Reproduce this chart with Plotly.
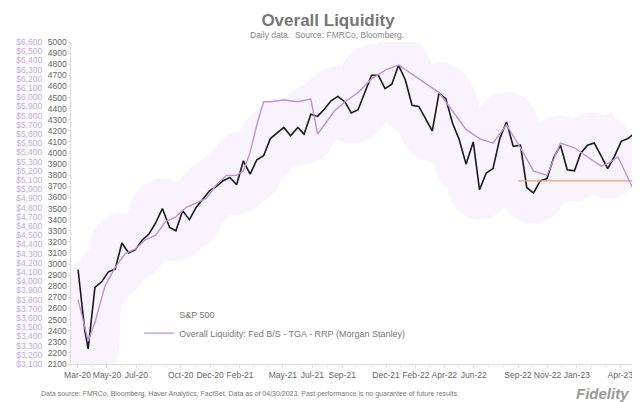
import plotly.graph_objects as go

spx_dates = ["2020-03-02","2020-03-16","2020-03-23","2020-04-06","2020-04-20","2020-05-04","2020-05-18","2020-06-01",
    "2020-06-15","2020-06-29","2020-07-13","2020-07-27","2020-08-10","2020-08-24","2020-09-08","2020-09-21",
    "2020-10-05","2020-10-19","2020-11-02","2020-11-16","2020-11-30","2020-12-14","2020-12-28",
    "2021-01-11","2021-01-25","2021-02-08","2021-02-22","2021-03-08","2021-03-22","2021-04-05","2021-04-19",
    "2021-05-03","2021-05-17","2021-06-01","2021-06-14","2021-06-28","2021-07-12","2021-07-26","2021-08-09",
    "2021-08-23","2021-09-07","2021-09-20","2021-10-04","2021-10-18","2021-11-01","2021-11-15","2021-11-29",
    "2021-12-13","2021-12-27","2022-01-10","2022-01-24","2022-02-07","2022-02-22","2022-03-07","2022-03-21",
    "2022-04-04","2022-04-18","2022-05-02","2022-05-16","2022-05-31","2022-06-13","2022-06-27","2022-07-11",
    "2022-07-25","2022-08-08","2022-08-22","2022-09-06","2022-09-19","2022-10-03","2022-10-17","2022-10-31",
    "2022-11-14","2022-11-28","2022-12-12","2022-12-27","2023-01-09","2023-01-23","2023-02-06","2023-02-21",
    "2023-03-06","2023-03-20","2023-04-03","2023-04-17","2023-04-28"]
spx = [2950,2400,2237,2790,2840,2930,2955,3190,3100,3130,3215,3270,3370,3500,3330,3300,
    3480,3400,3510,3580,3660,3700,3750,3780,3715,3930,3810,3940,3975,4130,4180,
    4230,4155,4230,4170,4350,4330,4395,4470,4510,4460,4360,4390,4540,4700,4700,4580,
    4620,4790,4660,4430,4420,4300,4200,4540,4490,4270,4120,3900,4100,3670,3820,3860,
    4130,4280,4060,4070,3690,3640,3750,3770,3960,4070,3850,3840,3999,4070,4090,3970,
    3860,3970,4105,4130,4170]

liq_dates = ["2020-03-02","2020-03-23","2020-04-06","2020-04-27","2020-05-18","2020-06-08","2020-06-29","2020-07-20",
    "2020-08-10","2020-08-31","2020-09-21","2020-10-12","2020-11-02","2020-11-23","2020-12-14","2021-01-04",
    "2021-01-25","2021-02-08","2021-02-22","2021-03-08","2021-03-22","2021-04-05","2021-05-03","2021-06-01",
    "2021-06-28","2021-07-12","2021-07-26","2021-08-16","2021-09-07","2021-10-04","2021-11-01","2021-12-01",
    "2021-12-27","2022-01-24","2022-02-22","2022-03-21","2022-04-18","2022-05-16","2022-06-13","2022-07-11",
    "2022-08-08","2022-09-06","2022-10-03","2022-10-31","2022-11-28","2022-12-27","2023-01-23","2023-02-21",
    "2023-03-13","2023-03-27","2023-04-10","2023-04-28"]
liq = [3800,3350,3550,3950,4150,4300,4350,4450,4500,4650,4700,4800,4850,4900,5050,5150,
    5150,5200,5400,5700,5950,5950,5970,5950,5980,5600,5700,5850,5950,6050,6200,6300,
    6350,6250,6150,6050,5850,5650,5550,5500,5700,5450,5200,5150,5500,5450,5350,5250,
    5300,5350,5200,5000]

tick_dates = ["2020-03-01","2020-05-01","2020-07-01","2020-10-01","2020-12-01","2021-02-01","2021-05-01","2021-07-01",
    "2021-09-01","2021-12-01","2022-02-01","2022-04-01","2022-06-01","2022-09-01","2022-11-01","2023-01-01","2023-04-01"]
tick_text = ["Mar-20","May-20","Jul-20","Oct-20","Dec-20","Feb-21","May-21","Jul-21","Sep-21","Dec-21",
    "Feb-22","Apr-22","Jun-22","Sep-22","Nov-22","Jan-23","Apr-23"]

ref_level = 3750
ref_dates = ["2022-09-01", "2023-05-12"]

fig = go.Figure()
# soft purple glow behind the lines
fig.add_trace(go.Scatter(x=spx_dates, y=spx, mode="lines", line=dict(color="rgba(200,160,240,0.12)", width=60, shape="spline", smoothing=1.3),
                         showlegend=False, hoverinfo="skip"))
fig.add_trace(go.Scatter(x=spx_dates, y=spx, mode="markers", name="S&P 500",
                         marker=dict(color="rgba(0,0,0,0)", size=2, line=dict(width=0)), showlegend=True))
fig.add_trace(go.Scatter(x=spx_dates, y=spx, mode="lines", line=dict(color="#1a1a1a", width=1.6), showlegend=False))
fig.add_trace(go.Scatter(x=liq_dates, y=liq, mode="lines", yaxis="y2",
                         name="Overall Liquidity: Fed B/S - TGA - RRP (Morgan Stanley)",
                         line=dict(color="#b894d8", width=1.4)))
fig.add_trace(go.Scatter(x=ref_dates, y=[ref_level]*2, mode="lines", line=dict(color="#f0a070", width=1.2),
                         showlegend=False))

fig.update_layout(
    width=640, height=402, plot_bgcolor="white", paper_bgcolor="white",
    margin=dict(l=0, r=8, t=34, b=46),
    font=dict(family="Liberation Sans", color="#777"),
    title=dict(text="<b>Overall Liquidity</b>", x=0.5, y=0.985, yanchor="top", font=dict(size=17, color="#777")),
    xaxis=dict(domain=[0.09, 1], range=["2020-02-15", "2023-05-12"], tickvals=tick_dates, ticktext=tick_text,
               tickangle=0, tickfont=dict(size=8.5, color="#666"), showgrid=False, showline=True, linecolor="#ddd",
               ticks="outside", ticklen=3, tickcolor="#ddd",
               minor=dict(dtick="M1", ticks="outside", ticklen=2, tickcolor="#e4e4e4")),
    yaxis=dict(range=[2100, 5000], dtick=100, anchor="free", position=0.09, showgrid=False,
               tickfont=dict(size=8.5, color="#666"), showline=True, linecolor="#ddd", ticks="outside",
               ticklen=2, tickcolor="#ddd"),
    yaxis2=dict(range=[3100, 6600], dtick=100, overlaying="y", side="left", anchor="free", position=0.045,
                showgrid=False, tickprefix="$", tickformat=",", tickfont=dict(size=8.5, color="#c3a9de")),
    legend=dict(x=0.2, y=0.2, xanchor="left", yanchor="top", bgcolor="rgba(0,0,0,0)",
                font=dict(size=9, color="#777"), tracegroupgap=6),
    annotations=[
        dict(text="Daily data.  Source: FMRCo, Bloomberg.", x=0.5, y=1.0, xref="paper", yref="paper",
             yanchor="bottom", showarrow=False, font=dict(size=8.5, color="#888")),
        dict(text="Data source: FMRCo, Bloomberg, Haver Analytics, FactSet. Data as of 04/30/2023. Past performance is no guarantee of future results.",
             x=0.04, y=-0.075, xref="paper", yref="paper", xanchor="left", yanchor="top", showarrow=False,
             font=dict(size=7, color="#777")),
        dict(text="<b><i>Fidelity</i></b>", x=0.985, y=-0.06, xref="paper", yref="paper", xanchor="right",
             yanchor="top", showarrow=False, font=dict(size=15, color="#999")),
    ],
)
fig.write_html("out.html")
